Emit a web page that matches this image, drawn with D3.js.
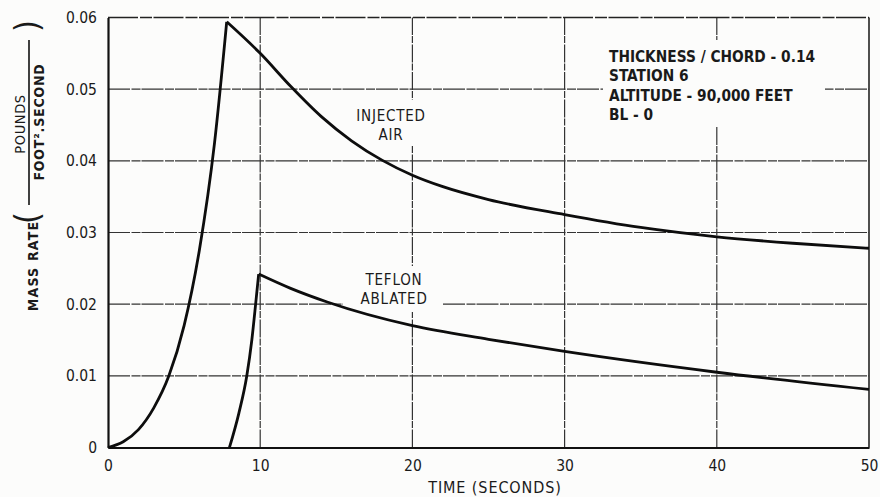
<!DOCTYPE html>
<html><head><meta charset="utf-8">
<script src="https://cdn.jsdelivr.net/npm/d3@7/dist/d3.min.js"></script>
<style>
html,body{margin:0;padding:0;background:#fcfcfb;}
svg{display:block;}
text{font-family:"DejaVu Sans Condensed","DejaVu Sans",sans-serif;fill:#1a1a1a;}
</style></head>
<body>
<svg id="c" width="880" height="497"></svg>
<script>
// ---- data ----
const xTicks = [0, 10, 20, 30, 40, 50];
const yTicks = [0, 0.01, 0.02, 0.03, 0.04, 0.05, 0.06];
const yTickLabels = ["0", "0.01", "0.02", "0.03", "0.04", "0.05", "0.06"];

const airTime = [0, 1, 2, 3, 4, 5, 6, 7, 7.8, 10, 12, 14, 16, 18, 20, 22, 25, 30, 35, 40, 45, 50];
const airRate = [0, 0.0008, 0.0025, 0.0055, 0.0100, 0.0170, 0.0275, 0.0425, 0.0594, 0.0550, 0.0504, 0.0462, 0.0428, 0.0401, 0.0380, 0.0364, 0.0346, 0.0325, 0.0307, 0.0294, 0.0285, 0.0278];

const teflonTime = [7.98, 8.6, 9.12, 9.45, 9.7, 9.9, 12, 14.4, 20, 25, 30, 40, 50];
const teflonRate = [0, 0.0048, 0.0100, 0.0150, 0.0200, 0.0242, 0.0222, 0.0203, 0.0170, 0.0151, 0.0134, 0.0105, 0.0081];

const notes = ["THICKNESS / CHORD - 0.14", "STATION 6", "ALTITUDE - 90,000 FEET", "BL - 0"];

// ---- layout ----
const svg = d3.select("#c");
const x = d3.scaleLinear().domain([0, 50]).range([108, 869]);
const y = d3.scaleLinear().domain([0, 0.06]).range([447.5, 17.5]);

const gridColor = "#333";

// grid
svg.append("g").selectAll("line.h").data(yTicks.slice(1, -1)).join("line")
  .attr("x1", x(0)).attr("x2", x(50))
  .attr("y1", d => y(d)).attr("y2", d => y(d))
  .attr("stroke", gridColor).attr("stroke-width", 1.2)
  .attr("stroke-dasharray", "22,1.5,9,1");
svg.append("g").selectAll("line.v").data(xTicks.slice(1, -1)).join("line")
  .attr("y1", y(0)).attr("y2", y(0.06))
  .attr("x1", d => x(d)).attr("x2", d => x(d))
  .attr("stroke", gridColor).attr("stroke-width", 1.2)
  .attr("stroke-dasharray", "18,1.5,7,1");

// frame
svg.append("line").attr("x1", x(0)).attr("x2", x(50)).attr("y1", y(0.06)).attr("y2", y(0.06))
  .attr("stroke", "#222").attr("stroke-width", 1.4).attr("stroke-dasharray", "30,2,12,1.5");
svg.append("line").attr("x1", x(50)).attr("x2", x(50)).attr("y1", y(0.06)).attr("y2", y(0))
  .attr("stroke", "#222").attr("stroke-width", 1.6);

// knock-outs behind labels
const bg = "#fcfcfb";
svg.append("rect").attr("x", 603).attr("y", 40).attr("width", 222).attr("height", 86).attr("fill", bg);
svg.append("rect").attr("x", 345).attr("y", 100).attr("width", 92).attr("height", 45).attr("fill", bg);
svg.append("rect").attr("x", 343).attr("y", 266).attr("width", 99).attr("height", 46).attr("fill", bg);

// axes
const xAxis = svg.append("g").attr("transform", `translate(0,${y(0)})`)
  .call(d3.axisBottom(x).tickValues(xTicks).tickSize(0).tickPadding(12).tickFormat(d3.format("d")));
xAxis.select(".domain").attr("stroke", "#111").attr("stroke-width", 2.2);
xAxis.selectAll("text").attr("font-size", 15.5).attr("fill", "#1a1a1a");

const yAxis = svg.append("g").attr("transform", `translate(${x(0)},0)`)
  .call(d3.axisLeft(y).tickValues(yTicks).tickSize(0).tickPadding(11).tickFormat((d, i) => yTickLabels[i]));
yAxis.select(".domain").attr("stroke", "#111").attr("stroke-width", 2.2);
yAxis.selectAll("text").attr("font-size", 15.5).attr("fill", "#1a1a1a");

// curves
const line = d3.line().x(d => x(d[0])).y(d => y(d[1])).curve(d3.curveMonotoneX);
function drawSplit(ts, vs) {
  const pts = ts.map((t, i) => [t, vs[i]]);
  const k = vs.indexOf(d3.max(vs));
  [pts.slice(0, k + 1), pts.slice(k)].forEach(seg => {
    svg.append("path").attr("d", line(seg)).attr("fill", "none")
      .attr("stroke", "#0d0d0d").attr("stroke-width", 2.8).attr("stroke-linejoin", "miter");
  });
}
drawSplit(airTime, airRate);
drawSplit(teflonTime, teflonRate);

// curve labels
const lab = svg.append("g").attr("font-size", 15).attr("text-anchor", "middle").attr("letter-spacing", 0.8);
lab.append("text").attr("x", 391).attr("y", 121).text("INJECTED");
lab.append("text").attr("x", 391).attr("y", 140).text("AIR");
lab.append("text").attr("x", 394).attr("y", 285).text("TEFLON");
lab.append("text").attr("x", 394).attr("y", 304).text("ABLATED");

// notes
svg.append("g").selectAll("text").data(notes).join("text")
  .attr("x", 609).attr("y", (d, i) => 62 + i * 19.3)
  .attr("font-size", 15.3).attr("font-weight", "bold").text(d => d);

// axis titles
svg.append("text").attr("x", 495).attr("y", 493)
  .attr("text-anchor", "middle").attr("font-size", 16).attr("letter-spacing", 0.9).text("TIME (SECONDS)");

const yt = svg.append("g").attr("font-size", 14);
yt.append("text").attr("transform", "translate(38,266) rotate(-90)").attr("text-anchor", "middle")
  .attr("font-weight", "bold").attr("letter-spacing", 1.2).text("MASS RATE");
yt.append("text").attr("transform", "translate(25,124) rotate(-90)").attr("text-anchor", "middle")
  .attr("font-size", 14.5).attr("letter-spacing", 0.6).text("POUNDS");
yt.append("line").attr("x1", 29).attr("x2", 29).attr("y1", 40).attr("y2", 205)
  .attr("stroke", "#111").attr("stroke-width", 1.6);
yt.append("text").attr("transform", "translate(44,122) rotate(-90)").attr("text-anchor", "middle")
  .attr("font-weight", "bold").attr("letter-spacing", 0.8).text("FOOT².SECOND");
yt.append("text").attr("transform", "translate(39,218) rotate(-90)").attr("text-anchor", "middle")
  .attr("font-size", 34).attr("font-weight", "200").text("(");
yt.append("text").attr("transform", "translate(39,26) rotate(-90)").attr("text-anchor", "middle")
  .attr("font-size", 34).attr("font-weight", "200").text(")");
</script>
</body></html>
